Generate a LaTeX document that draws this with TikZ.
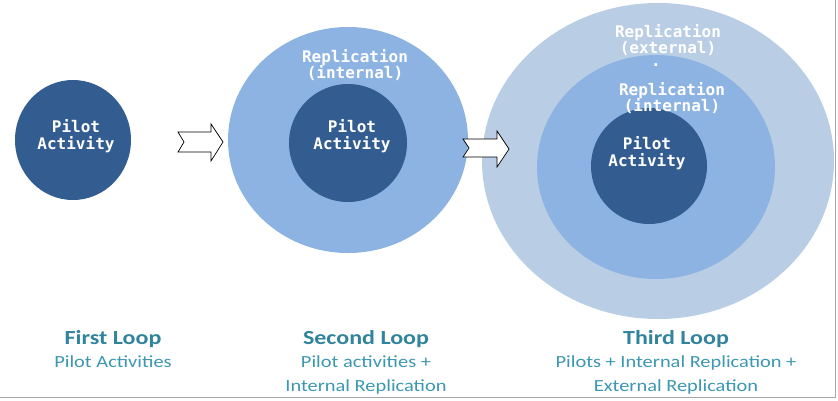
\documentclass[tikz,border=0pt]{standalone}
\usepackage{fontspec}
\setmainfont{Carlito}[FakeStretch=1.2]
\newfontfamily\monob{DejaVu Sans Mono}[BoldFont={DejaVu Sans Mono Bold}]
\definecolor{darkblue}{HTML}{335D91}
\definecolor{midblue}{HTML}{8DB3E2}
\definecolor{lightblue}{HTML}{B9CDE5}
\definecolor{titlecol}{HTML}{31849B}
\definecolor{subcol}{HTML}{3C97B0}
\begin{document}
\begin{tikzpicture}[x=1pt,y=-1pt,
  inner/.style={fill=darkblue},
  mid/.style={fill=midblue},
  outer/.style={fill=lightblue},
  circtext/.style={text=white,font=\monob\bfseries\fontsize{16}{16.5}\selectfont,align=center,inner sep=0pt},
  looptitle/.style={text=titlecol,font=\bfseries\fontsize{20}{24}\selectfont,inner sep=0pt},
  loopsub/.style={text=subcol,font=\fontsize{17}{24}\selectfont,align=center,inner sep=0pt,anchor=north},
  blockarrow/.style={fill=white,draw=black,line width=0.7pt,line join=miter}]
\useasboundingbox (0,0) rectangle (838,400);
% first loop
\fill[inner] (73,140) ellipse [x radius=58, y radius=60];
\node[circtext] (p1) at (76,136) {Pilot\\Activity};
% arrow 1
\coordinate (a1) at (178,132);
\draw[blockarrow] (a1) -- (211,132) -- (211,124) -- (223,142) -- (211,161) -- (211,152) -- (178,152) -- (184,142) -- cycle;
% second loop
\fill[mid] (348,140) ellipse [x radius=120, y radius=113];
\fill[inner] (348,143) circle [radius=59];
\node[circtext] (r2) at (355,65) {Replication\\(internal)};
\node[circtext] (p2) at (352,136) {Pilot\\Activity};
% third loop
\fill[outer] (658,161) ellipse [x radius=176, y radius=158];
\fill[mid] (656,167) ellipse [x radius=119, y radius=112];
\fill[inner] (649,166) circle [radius=58];
% arrow 2
\draw[blockarrow] (463,139) -- (497,139) -- (497,131) -- (509,149) -- (497,167) -- (497,157) -- (463,157) -- (469,148) -- cycle;
\node[circtext,anchor=north] (r3e) at (668,24) {Replication\\(external)\\[-4pt]\rlap{.}\hspace*{34pt}};
\node[circtext] (r3i) at (672,98) {Replication\\(internal)};
\node[circtext] (p3) at (647,153) {Pilot\\Activity};
% labels
\node[looptitle] (t1) at (113,339) {First Loop};
\node[loopsub] (s1) at (113,355) {Pilot Activities};
\node[looptitle] (t2) at (366,339) {Second Loop};
\node[loopsub] (s2) at (366,355) {Pilot activities +\\Internal Replication};
\node[looptitle] (t3) at (676,339) {Third Loop};
\node[loopsub] (s3) at (676,355) {Pilots + Internal Replication +\\External Replication};
% frame lines
\coordinate (fr0) at (0,397.5);
\coordinate (fr1) at (835,397.5);
\coordinate (fr2) at (835,0);
\draw[color=gray!70,line width=1pt] (fr0) -- (fr1) -- (fr2);
\end{tikzpicture}
\end{document}
